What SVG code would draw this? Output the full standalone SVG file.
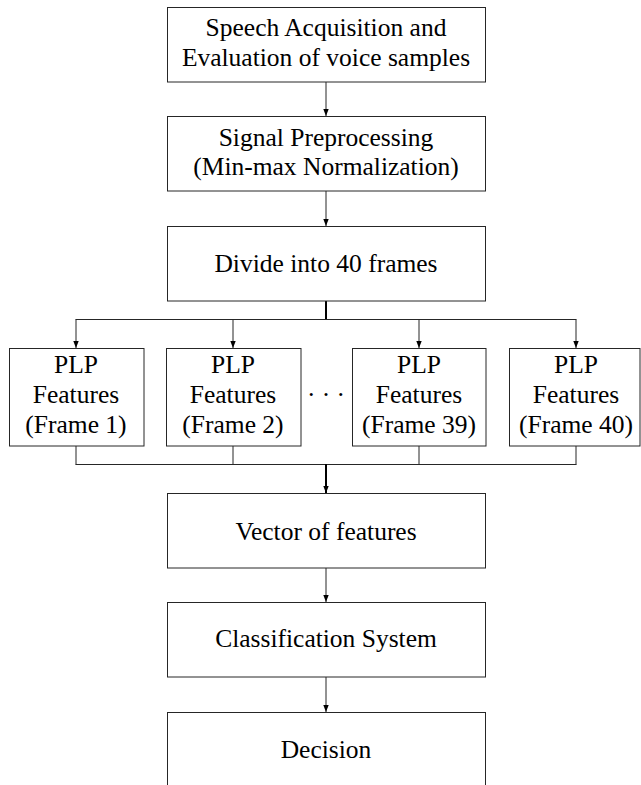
<svg xmlns="http://www.w3.org/2000/svg" width="641" height="785" viewBox="0 0 641 785">
  <style>
    .box { fill: #ffffff; stroke: #262626; stroke-width: 1; }
    .lbl { font-family: "Liberation Serif", "Times New Roman", serif; font-size: 25.5px; fill: #000000; text-anchor: middle; }
    .ln { fill: none; stroke: #262626; stroke-width: 1; }
    .thick { fill: none; stroke: #000000; stroke-width: 2; }
  </style>
  <defs>
    <marker id="arr" markerUnits="userSpaceOnUse" markerWidth="8" markerHeight="8" refX="7" refY="4" orient="auto">
      <path d="M0,1.3 L7,4 L0,6.7 Z" fill="#000000"/>
    </marker>
  </defs>
  <rect width="641" height="785" fill="#ffffff"/>

  <g id="connectors">
    <line class="ln" x1="326" y1="82" x2="326" y2="116" marker-end="url(#arr)"/>
    <line class="ln" x1="326" y1="191" x2="326" y2="226" marker-end="url(#arr)"/>
    <line class="thick" x1="326" y1="301" x2="326" y2="319.5"/>
    <line class="ln" x1="75.5" y1="319.5" x2="576.5" y2="319.5"/>
    <line class="ln" x1="76" y1="319.5" x2="76" y2="348" marker-end="url(#arr)"/>
    <line class="ln" x1="233" y1="319.5" x2="233" y2="348" marker-end="url(#arr)"/>
    <line class="ln" x1="419" y1="319.5" x2="419" y2="348" marker-end="url(#arr)"/>
    <line class="ln" x1="576" y1="319.5" x2="576" y2="348" marker-end="url(#arr)"/>
    <line class="ln" x1="76" y1="446" x2="76" y2="464.5"/>
    <line class="ln" x1="233" y1="446" x2="233" y2="464.5"/>
    <line class="ln" x1="419" y1="446" x2="419" y2="464.5"/>
    <line class="ln" x1="576" y1="446" x2="576" y2="464.5"/>
    <line class="ln" x1="75.5" y1="464.5" x2="576.5" y2="464.5"/>
    <line class="thick" x1="326" y1="464" x2="326" y2="493" marker-end="url(#arr)"/>
    <line class="ln" x1="326" y1="568" x2="326" y2="602" marker-end="url(#arr)"/>
    <line class="ln" x1="326" y1="677" x2="326" y2="712" marker-end="url(#arr)"/>
  </g>

  <g id="speech">
    <rect class="box" x="167.5" y="7.5" width="318" height="74.5"/>
    <text class="lbl" x="326" y="36">Speech Acquisition and</text>
    <text class="lbl" x="326" y="66">Evaluation of voice samples</text>
  </g>
  <g id="preproc">
    <rect class="box" x="167.5" y="116.5" width="318" height="74.5"/>
    <text class="lbl" x="326" y="146">Signal Preprocessing</text>
    <text class="lbl" x="326" y="175">(Min-max Normalization)</text>
  </g>
  <g id="divide">
    <rect class="box" x="167.5" y="226.5" width="318" height="74.5"/>
    <text class="lbl" x="326" y="272">Divide into 40 frames</text>
  </g>

  <g id="plp1">
    <rect class="box" x="9.5" y="348.5" width="134.5" height="97.5"/>
    <text class="lbl" x="76" y="373">PLP</text>
    <text class="lbl" x="76" y="403">Features</text>
    <text class="lbl" x="76" y="433">(Frame 1)</text>
  </g>
  <g id="plp2">
    <rect class="box" x="166.5" y="348.5" width="134.5" height="97.5"/>
    <text class="lbl" x="233" y="373">PLP</text>
    <text class="lbl" x="233" y="403">Features</text>
    <text class="lbl" x="233" y="433">(Frame 2)</text>
  </g>
  <g id="dots">
    <text class="lbl" x="326" y="403">· · ·</text>
  </g>
  <g id="plp39">
    <rect class="box" x="352.5" y="348.5" width="133.5" height="97.5"/>
    <text class="lbl" x="419" y="373">PLP</text>
    <text class="lbl" x="419" y="403">Features</text>
    <text class="lbl" x="419" y="433">(Frame 39)</text>
  </g>
  <g id="plp40">
    <rect class="box" x="509.5" y="348.5" width="130.5" height="97.5"/>
    <text class="lbl" x="576" y="373">PLP</text>
    <text class="lbl" x="576" y="403">Features</text>
    <text class="lbl" x="576" y="433">(Frame 40)</text>
  </g>

  <g id="vector">
    <rect class="box" x="167.5" y="493.5" width="318" height="74.5"/>
    <text class="lbl" x="326" y="540">Vector of features</text>
  </g>
  <g id="classification">
    <rect class="box" x="167.5" y="602.5" width="318" height="74.5"/>
    <text class="lbl" x="326" y="647">Classification System</text>
  </g>
  <g id="decision">
    <rect class="box" x="167.5" y="712.5" width="318" height="75"/>
    <text class="lbl" x="326" y="758">Decision</text>
  </g>
</svg>
